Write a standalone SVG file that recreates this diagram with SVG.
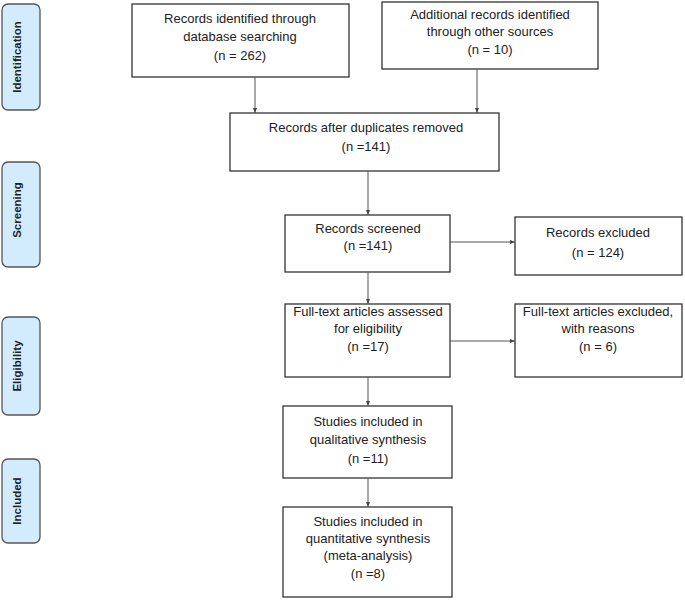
<svg xmlns="http://www.w3.org/2000/svg" width="685" height="602" viewBox="0 0 685 602">
<style>
.box{fill:#fff;stroke:#333;stroke-width:1.3}
.side{fill:#d2ebfd;stroke:#555;stroke-width:1.3}
.t{font-family:"Liberation Sans",Arial,sans-serif;font-size:13px;fill:#222;text-anchor:middle}
.s{font-family:"Liberation Sans",Arial,sans-serif;font-size:11.5px;font-weight:bold;fill:#222;text-anchor:middle}
.c{stroke:#555;stroke-width:1;fill:none;marker-end:url(#ah)}
</style>
<defs>
<marker id="ah" markerWidth="6" markerHeight="6" refX="5" refY="3" orient="auto" markerUnits="userSpaceOnUse">
<path d="M0,1 L5,3 L0,5 Z" fill="#444"/>
</marker>
</defs>
<g id="side-identification"><rect class="side" x="2" y="4" width="38" height="106" rx="6"/><text class="s" transform="translate(21,57) rotate(-90)">Identification</text></g>
<g id="side-screening"><rect class="side" x="2" y="162" width="38" height="105" rx="6"/><text class="s" transform="translate(21,210) rotate(-90)">Screening</text></g>
<g id="side-eligibility"><rect class="side" x="2" y="317" width="38" height="98" rx="6"/><text class="s" transform="translate(21,366) rotate(-90)">Eligibility</text></g>
<g id="side-included"><rect class="side" x="2" y="459" width="38" height="84" rx="6"/><text class="s" transform="translate(21,501) rotate(-90)">Included</text></g>

<g id="n1"><rect class="box" x="132" y="4" width="217" height="73"/>
<text class="t" x="240" y="23">Records identified through</text>
<text class="t" x="240" y="41">database searching</text>
<text class="t" x="240" y="60">(n = 262)</text></g>
<g id="n2"><rect class="box" x="382" y="2" width="216" height="67"/>
<text class="t" x="490" y="19">Additional records identified</text>
<text class="t" x="490" y="36">through other sources</text>
<text class="t" x="490" y="54">(n = 10)</text></g>
<g id="n3"><rect class="box" x="230" y="113" width="269" height="58"/>
<text class="t" x="366" y="132">Records after duplicates removed</text>
<text class="t" x="366" y="151">(n =141)</text></g>
<g id="n4"><rect class="box" x="285" y="215" width="165" height="57"/>
<text class="t" x="368" y="233">Records screened</text>
<text class="t" x="368" y="250">(n =141)</text></g>
<g id="n5"><rect class="box" x="515" y="217" width="167" height="58"/>
<text class="t" x="598" y="237">Records excluded</text>
<text class="t" x="598" y="257">(n = 124)</text></g>
<g id="n6"><rect class="box" x="285" y="304" width="165" height="73"/>
<text class="t" x="368" y="316">Full-text articles assessed</text>
<text class="t" x="368" y="333">for eligibility</text>
<text class="t" x="368" y="351">(n =17)</text></g>
<g id="n7"><rect class="box" x="515" y="304" width="167" height="73"/>
<text class="t" x="598" y="316">Full-text articles excluded,</text>
<text class="t" x="598" y="333">with reasons</text>
<text class="t" x="598" y="351">(n = 6)</text></g>
<g id="n8"><rect class="box" x="283" y="406" width="169" height="72"/>
<text class="t" x="368" y="426">Studies included in</text>
<text class="t" x="368" y="444">qualitative synthesis</text>
<text class="t" x="368" y="463">(n =11)</text></g>
<g id="n9"><rect class="box" x="283" y="507" width="169" height="90"/>
<text class="t" x="368" y="526">Studies included in</text>
<text class="t" x="368" y="543">quantitative synthesis</text>
<text class="t" x="368" y="560">(meta-analysis)</text>
<text class="t" x="368" y="578">(n =8)</text></g>

<g id="connectors">
<line class="c" x1="255" y1="77" x2="255" y2="113"/>
<line class="c" x1="477" y1="69" x2="477" y2="113"/>
<line class="c" x1="368" y1="171" x2="368" y2="215"/>
<line class="c" x1="450" y1="242" x2="515" y2="242"/>
<line class="c" x1="368" y1="272" x2="368" y2="304"/>
<line class="c" x1="450" y1="341" x2="515" y2="341"/>
<line class="c" x1="368" y1="377" x2="368" y2="406"/>
<line class="c" x1="368" y1="478" x2="368" y2="507"/>
</g>
</svg>
